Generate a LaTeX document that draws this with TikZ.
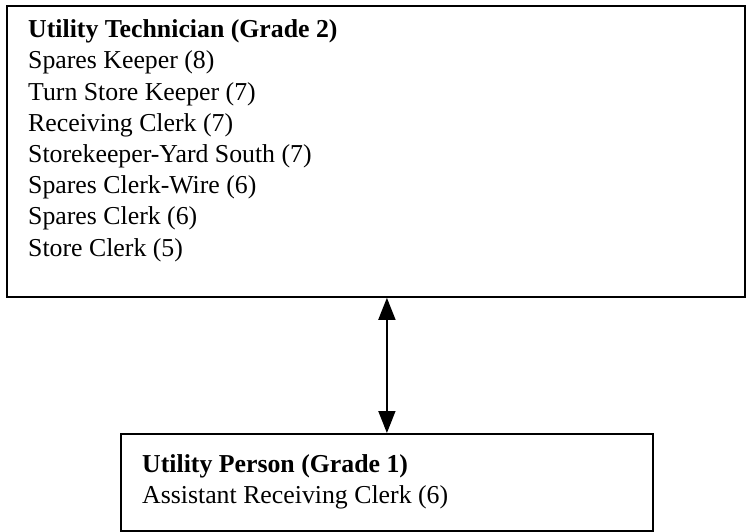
\documentclass[tikz,border=0pt]{standalone}
\usepackage{fontspec}
\setmainfont{Liberation Serif}
\usetikzlibrary{arrows.meta}
\tikzset{
  box/.style={draw=black, line width=1.8bp, inner sep=0pt, anchor=north west},
  txt/.style={anchor=north west, inner sep=0pt, align=left,
    font=\fontsize{25.8bp}{31.2bp}\selectfont},
  link/.style={line width=1.6bp, {Triangle[width=17bp,length=22bp]}-{Triangle[width=17bp,length=22bp]}}
}
\begin{document}
\begin{tikzpicture}[x=1bp,y=-1bp]
\useasboundingbox (0,0) rectangle (748,532);
\node[box, minimum width=738bp, minimum height=291bp] (top) at (6,5) {};
\node[box, minimum width=532bp, minimum height=97bp] (bot) at (120,433) {};
\node[txt] (toptxt) at (28,19.5) {\textbf{Utility Technician (Grade 2)}\\
Spares Keeper (8)\\
Turn Store Keeper (7)\\
Receiving Clerk (7)\\
Storekeeper-Yard South (7)\\
Spares Clerk-Wire (6)\\
Spares Clerk (6)\\
Store Clerk (5)};
\node[txt] (bottxt) at (142,454.5) {\textbf{Utility Person (Grade 1)}\\
Assistant Receiving Clerk (6)};
\draw[link] (bot.north |- top.south) -- (bot.north);
\end{tikzpicture}
\end{document}
